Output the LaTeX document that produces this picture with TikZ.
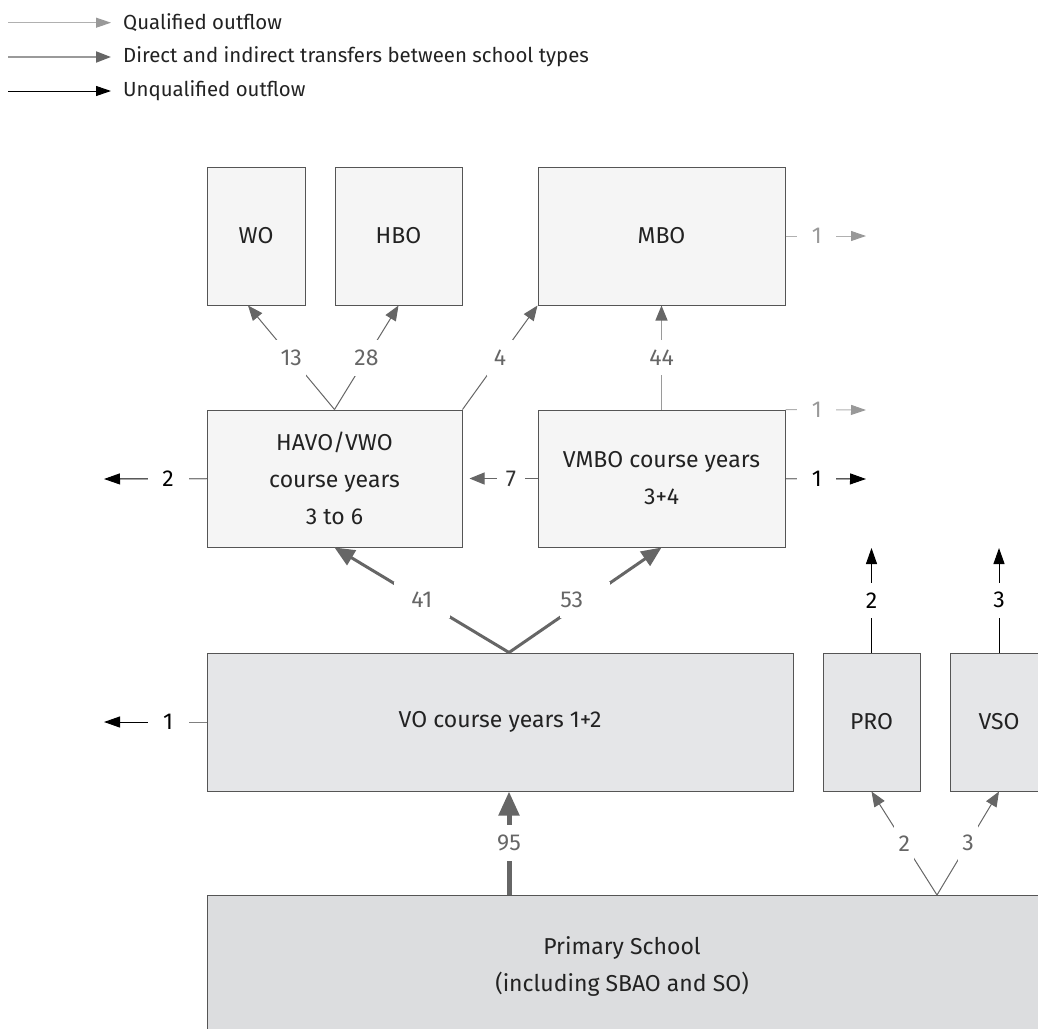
\documentclass[tikz,border=0pt]{standalone}
\usepackage{fontspec}
\setmainfont{Fira Sans}
\usetikzlibrary{arrows.meta,calc}
\definecolor{boxline}{HTML}{555555}
\definecolor{fillA}{HTML}{F5F5F5}
\definecolor{fillB}{HTML}{E5E6E8}
\definecolor{fillC}{HTML}{DCDDDF}
\definecolor{trgray}{HTML}{666666}
\definecolor{trlight}{HTML}{9A9A9A}
\definecolor{qline}{HTML}{B0B0B0}
\definecolor{qhead}{HTML}{999999}
\definecolor{txt}{HTML}{222222}
\definecolor{stubgray}{HTML}{808080}
\begin{document}
\begin{tikzpicture}[x=1pt,y=-1pt,
  box/.style={draw=boxline, line width=1pt, inner sep=0pt, text=txt, align=center,
    font=\fontsize{23}{37}\selectfont},
  lightbox/.style={box, fill=fillA},
  midbox/.style={box, fill=fillB},
  primbox/.style={box, fill=fillC},
  legtext/.style={anchor=west, inner sep=0pt, text=txt, font=\fontsize{20.4}{21}\selectfont},
  gap/.style={fill=white, inner sep=0pt, text=trgray, font=\fontsize{23}{23}\selectfont},
  tr/.style={draw=trgray, line width=1pt, -{Triangle[length=15pt,width=12pt]}},
  trsoft/.style={draw=trlight, line width=1.4pt, -{Triangle[length=15pt,width=12pt,color=trgray]}},
  trthick/.style={draw=trgray, line width=3pt, -{Triangle[length=20pt,width=17pt]}},
  trfat/.style={draw=trgray, line width=5pt, -{Triangle[length=24pt,width=20pt]}},
  qual/.style={draw=qline, line width=1pt, -{Triangle[length=15pt,width=10pt,color=qhead]}},
  unq/.style={draw=black, line width=1pt, -{Triangle[length=16pt,width=11pt]}},
  stub/.style={draw=stubgray, line width=1pt},
  leglinetr/.style={draw=trlight, line width=2pt, -{Triangle[length=15pt,width=11pt,color=trgray]}},
  leglineq/.style={draw=qline, line width=1pt, -{Triangle[length=15pt,width=10pt,color=qhead]}},
  leglineu/.style={draw=black, line width=1pt, -{Triangle[length=15pt,width=10pt]}}
]
\useasboundingbox (0,0) rectangle (1038,1028);

% legend
\node[legtext] (lgq) at (123,22.7) {Qualified outflow};
\node[legtext] (lgt) at (123,57) {Direct and indirect transfers between school types};
\node[legtext] (lgu) at (123,91) {Unqualified outflow};
\coordinate (lgq0) at (8,22.7);
\coordinate (lgt0) at (8,57);
\coordinate (lgu0) at (8,91);
\draw[leglineq] (lgq0) -- ([xshift=-12pt]lgq.west);
\draw[leglinetr] (lgt0) -- ([xshift=-12pt]lgt.west);
\draw[leglineu] (lgu0) -- ([xshift=-12pt]lgu.west);

% boxes
\node[lightbox, minimum width=98pt, minimum height=138pt] (wo) at (256,236) {WO};
\node[lightbox, minimum width=127pt, minimum height=138pt] (hbo) at (398.5,236) {HBO};
\node[lightbox, minimum width=247pt, minimum height=138pt] (mbo) at (661.5,236) {MBO};
\node[lightbox, minimum width=255pt, minimum height=137pt] (havo) at (334.5,478.5) {HAVO/VWO\\course years\\3 to 6};
\node[lightbox, minimum width=247pt, minimum height=137pt] (vmbo) at (661.5,478.5) {VMBO course years\\3+4};
\node[midbox, minimum width=586pt, minimum height=138pt] (vo) at (500,722) {VO course years 1+2};
\node[midbox, minimum width=97pt, minimum height=138pt] (pro) at (871.5,722) {PRO};
\node[midbox, minimum width=98pt, minimum height=138pt] (vso) at (999,722) {VSO};
\node[primbox, minimum width=838pt, minimum height=160pt] (prim) at (626,975) {};
\node[inner sep=0pt, text=txt, align=center, font=\fontsize{23}{37}\selectfont] (primtext) at (622,966) {Primary School\\(including SBAO and SO)};

% helper coordinates
\coordinate (vtop) at ([xshift=9pt]vo.north);
\coordinate (vbot) at ([xshift=9pt]vo.south);
\coordinate (ptop) at (vbot |- prim.north);
\coordinate (pv) at (937,895);
\coordinate (outL2) at (104,479);
\coordinate (outL1) at (104,722);
\coordinate (outMq) at (866,236);
\coordinate (outVq) at (866,410);
\coordinate (outVu) at (866,479);
\coordinate (outP) at (871.5,548);
\coordinate (outS) at (999,548);

% transfers upward from HAVO/VWO
\draw[tr] (havo.north) -- node[gap, minimum width=30pt, minimum height=36pt] (l13) {13} ([xshift=-8pt]wo.south);
\draw[tr] (havo.north) -- node[gap, minimum width=21pt, minimum height=36pt] (l28) {28} (hbo.south);
\draw[tr] (havo.north east) -- node[gap, minimum width=26pt, minimum height=36pt] (l4) {4} (mbo.south west);
\draw[trsoft] (vmbo.north) -- node[gap, minimum width=30pt, minimum height=35pt] (l44) {44} (mbo.south);

% qualified outflow
\draw[qual] (mbo.east) -- node[gap, pos=0.39, minimum width=39pt, text=qhead] (lmq) {1} (outMq);
\draw[qual] (vmbo.north east) -- node[gap, pos=0.39, minimum width=39pt, text=qhead] (lvq) {1} (outVq);

% unqualified outflow
\draw[unq] (vmbo.east) -- node[gap, pos=0.39, minimum width=39pt, text=black] (lvu) {1} (outVu);
\draw[stub] (vmbo.east) -- (lvu.west);
\draw[unq] (havo.west) -- node[gap, pos=0.374, minimum width=41pt, text=black] (lh2) {2} (outL2);
\draw[stub] (havo.west) -- (lh2.east);
\draw[unq] (vo.west) -- node[gap, pos=0.374, minimum width=41pt, text=black] (lv1) {1} (outL1);
\draw[stub] (vo.west) -- (lv1.east);
\draw[unq] (pro.north) -- node[gap, minimum width=20pt, minimum height=35pt, text=black] (lp2) {2} (outP);
\draw[unq] (vso.north) -- node[gap, minimum width=20pt, minimum height=35pt, text=black] (ls3) {3} (outS);

% VMBO -> HAVO
\draw[tr] (vmbo.west) -- node[gap, pos=0.39, minimum width=28pt, text=black!80] (l7) {7} ([xshift=7pt]havo.east);

% from VO
\draw[trthick] (vtop) -- node[gap, minimum width=56pt, minimum height=36pt] (l41) {41} (havo.south);
\draw[trthick] (vtop) -- node[gap, minimum width=50pt, minimum height=36pt, text width=50pt, align=left] (l53) {53} (vmbo.south);

% from primary school
\draw[trfat] (ptop) -- node[gap, minimum width=30pt, minimum height=36pt] (l95) {95} (vbot);
\draw[tr] (pv) -- node[gap, minimum width=20pt, minimum height=36pt] (lpr) {2} (pro.south);
\draw[tr] (pv) -- node[gap, minimum width=20pt, minimum height=36pt] (lvs) {3} (vso.south);
\end{tikzpicture}
\end{document}
